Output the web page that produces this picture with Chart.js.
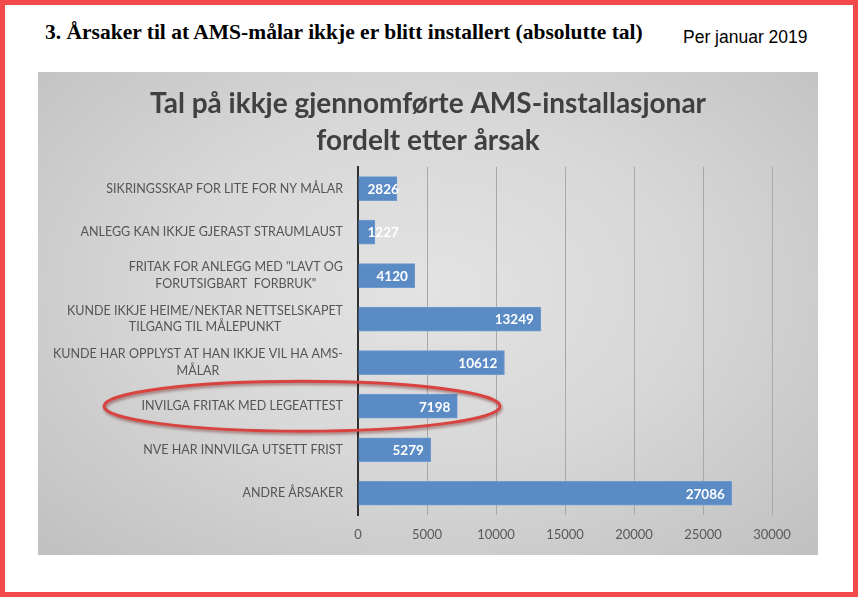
<!DOCTYPE html>
<html>
<head>
<meta charset="utf-8">
<script src="https://cdn.jsdelivr.net/npm/chart.js"></script>
<style>
  html,body{margin:0;padding:0;background:#fff}
  #frame{position:relative;width:858px;height:597px;box-sizing:border-box;border:5px solid #f24a4a;overflow:hidden;background:#fff}
  #heading{position:absolute;left:40px;top:15px;font:bold 21.5px 'Liberation Serif','Times New Roman',serif;color:#000;white-space:nowrap}
  #date{position:absolute;left:678px;top:22px;font:17.5px 'Liberation Sans',Arial,sans-serif;color:#000;white-space:nowrap}
  #panel{position:absolute;left:33px;top:67px;width:780px;height:483px;
    background:radial-gradient(ellipse at 50% 45%,#e3e3e3 0%,#d8d8d8 45%,#c0c0c0 100%)}
</style>
</head>
<body>
<div id="frame">
  <div id="heading">3. Årsaker til at AMS-målar ikkje er blitt installert (absolutte tal)</div>
  <div id="date">Per januar 2019</div>
  <div id="panel"><canvas id="myChart" width="780" height="483"></canvas></div>
</div>
<script>
const titleLines = ["Tal på ikkje gjennomførte AMS-installasjonar", "fordelt etter årsak"];

const reasons = [
  "SIKRINGSSKAP FOR LITE FOR NY MÅLAR",
  "ANLEGG KAN IKKJE GJERAST STRAUMLAUST",
  ["FRITAK FOR ANLEGG MED \"LAVT OG", "FORUTSIGBART  FORBRUK\""],
  ["KUNDE IKKJE HEIME/NEKTAR NETTSELSKAPET", "TILGANG TIL MÅLEPUNKT"],
  ["KUNDE HAR OPPLYST AT HAN IKKJE VIL HA AMS-", "MÅLAR"],
  "INVILGA FRITAK MED LEGEATTEST",
  "NVE HAR INNVILGA UTSETT FRIST",
  "ANDRE ÅRSAKER"
];

const counts = [2826, 1227, 4120, 13249, 10612, 7198, 5279, 27086];

const axisMax = 30000;
const axisStep = 5000;

const highlighted = 5; // the circled row

// labels on the left, lines centred on each other, right edge fixed
const reasonLabels = {
  id: 'reasonLabels',
  afterDraw(chart) {
    const ctx = chart.ctx;
    const y = chart.scales.y;
    const right = chart.chartArea.left - 15;
    ctx.save();
    ctx.font = '12.5px Lato';
    ctx.fillStyle = '#555555';
    ctx.textAlign = 'center';
    ctx.textBaseline = 'middle';
    reasons.forEach((r, i) => {
      const lines = Array.isArray(r) ? r : [r];
      const w = Math.max(...lines.map(l => ctx.measureText(l).width));
      const cx = right - w / 2;
      const cy = y.getPixelForValue(i);
      const lh = 16.5;
      lines.forEach((l, k) => {
        ctx.fillText(l, cx, cy + (k - (lines.length - 1) / 2) * lh);
      });
    });
    ctx.restore();
  }
};

// white value inside the bar end
const valueLabels = {
  id: 'valueLabels',
  afterDatasetsDraw(chart) {
    const ctx = chart.ctx;
    const meta = chart.getDatasetMeta(0);
    ctx.save();
    ctx.font = 'bold 13.5px Lato';
    ctx.fillStyle = '#ffffff';
    ctx.textAlign = 'right';
    ctx.textBaseline = 'middle';
    meta.data.forEach((bar, i) => {
      const txt = String(counts[i]);
      const w = ctx.measureText(txt).width;
      const r = Math.max(bar.x - 7, bar.base + 9 + w);
      ctx.fillText(txt, r, bar.y + 1);
    });
    ctx.restore();
  }
};

// red ring round the highlighted row
const ring = {
  id: 'ring',
  afterDraw(chart) {
    const ctx = chart.ctx;
    const cy = chart.scales.y.getPixelForValue(highlighted);
    ctx.save();
    ctx.shadowColor = 'rgba(90,0,0,0.45)';
    ctx.shadowBlur = 3;
    ctx.shadowOffsetX = 1;
    ctx.shadowOffsetY = 2;
    ctx.strokeStyle = '#d8423f';
    ctx.lineWidth = 3;
    ctx.beginPath();
    ctx.ellipse(264, cy, 198, 25, 0, 0, Math.PI * 2);
    ctx.stroke();
    ctx.restore();
  }
};

const data = {
  labels: reasons,
  datasets: [
    {
      label: "Tal",
      data: counts,
      backgroundColor: "#5b8bc5",
      borderColor: "#6f9bd0",
      borderWidth: 1,
      barThickness: 24
    }
  ]
};

const config = {
  type: "bar",
  data: data,
  plugins: [reasonLabels, valueLabels, ring],
  options: {
    indexAxis: 'y',
    responsive: false,
    animation: false,
    layout: { padding: { left: 46, right: 46, top: 0, bottom: 12 } },
    plugins: {
      legend: { display: false },
      tooltip: { enabled: false },
      title: {
        display: true,
        text: titleLines,
        color: '#404040',
        font: { family: 'Lato', size: 28, weight: 'bold', lineHeight: 1.3 },
        padding: { top: 14, bottom: 8 }
      }
    },
    scales: {
      x: {
        min: 0,
        max: axisMax,
        ticks: {
          stepSize: axisStep,
          color: '#595959',
          font: { family: 'Lato', size: 13 },
          padding: 12,
          callback: v => String(v)
        },
        grid: { color: '#a8a8a8', lineWidth: 1, drawTicks: false },
        border: { display: false },
        afterFit(s) { s.height = 28; }
      },
      y: {
        ticks: { display: false },
        grid: { display: false },
        border: { display: true, color: '#2f2f2f', width: 2 },
        afterFit(s) { s.width = 274; }
      }
    }
  }
};

const myChart = new Chart(document.getElementById("myChart"), config);
</script>
</body>
</html>
